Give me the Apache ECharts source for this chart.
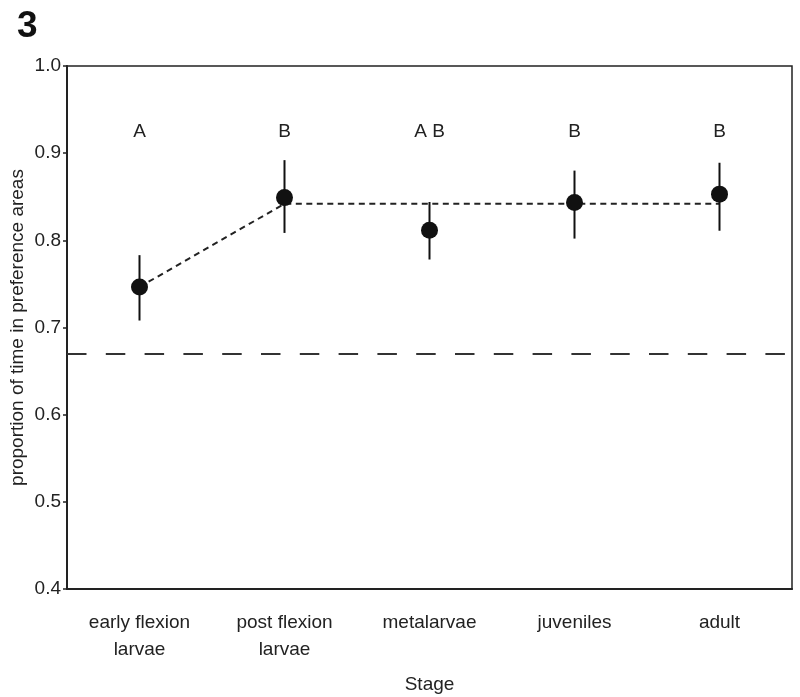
<!DOCTYPE html>
<html>
<head>
<meta charset="utf-8">
<script src="https://cdn.jsdelivr.net/npm/echarts@6/dist/echarts.min.js"></script>
<style>html,body{margin:0;padding:0;background:#fff}#c{width:800px;height:697px}</style>
</head>
<body>
<div id="c"></div>
<script>
const categories = ['early flexion\nlarvae', 'post flexion\nlarvae', 'metalarvae', 'juveniles', 'adult'];
const means = [0.7465, 0.849, 0.8115, 0.8435, 0.853];
const errLow = [0.708, 0.8085, 0.778, 0.802, 0.811];
const errHigh = [0.783, 0.892, 0.844, 0.880, 0.889];
const fitLine = [0.7465, 0.842, 0.842, 0.842, 0.842];
const letters = ['A', 'B', 'A B', 'B', 'B'];
const letterY = 0.924;
const chanceLevel = 0.666;
const yTicks = [0.4, 0.5, 0.6, 0.7, 0.8, 0.9, 1.0];

const font = 'Liberation Sans, Arial, Helvetica, sans-serif';
const chart = echarts.init(document.getElementById('c'), null, {renderer: 'canvas'});
chart.setOption({
  animation: false,
  backgroundColor: '#fff',
  title: {text: '3', left: 12, top: 3, textStyle: {fontFamily: font, fontWeight: 'bold', fontSize: 37, color: '#111'}},
  grid: {left: 67, right: 8, top: 66, bottom: 108, containLabel: false, outerBoundsMode: 'none',
    show: true, borderColor: '#222', borderWidth: 1.5, backgroundColor: 'transparent'},
  xAxis: {
    type: 'category', data: categories, boundaryGap: true,
    name: 'Stage', nameLocation: 'middle', nameGap: 86, nameMoveOverlap: false,
    nameTextStyle: {fontFamily: font, fontSize: 19, color: '#222'},
    axisLine: {lineStyle: {color: '#222', width: 2}},
    axisTick: {alignWithLabel: true, length: 4, lineStyle: {color: '#222', width: 1.5}},
    axisLabel: {fontFamily: font, fontSize: 19, color: '#222', margin: 20, lineHeight: 27},
    splitLine: {show: false}
  },
  yAxis: {
    type: 'value', min: 0.4, max: 1.0, interval: 0.1,
    name: 'proportion of time in preference areas', nameLocation: 'middle', nameGap: 40, nameMoveOverlap: false,
    nameTextStyle: {fontFamily: font, fontSize: 19, color: '#222'},
    axisLine: {show: true, lineStyle: {color: '#222', width: 2}},
    axisTick: {show: true, length: 4, lineStyle: {color: '#222', width: 1.5}},
    axisLabel: {fontFamily: font, fontSize: 19, color: '#222', margin: 6,
      formatter: v => { const t = yTicks.find(x => Math.abs(x - v) < 1e-6); return t !== undefined ? t.toFixed(1) : ''; }},
    splitLine: {show: false}
  },
  series: [
    {
      type: 'line', data: fitLine, symbol: 'none', z: 2,
      lineStyle: {color: '#222', width: 2, type: [6, 4.5]},
      markLine: {
        silent: true, symbol: 'none', label: {show: false},
        lineStyle: {color: '#333', width: 2, type: [19.5, 19.3]},
        data: [{yAxis: chanceLevel}]
      }
    },
    {
      type: 'custom', z: 3,
      data: categories.map((c, i) => [i, errLow[i], errHigh[i]]),
      renderItem: (params, api) => {
        const p1 = api.coord([api.value(0), api.value(1)]);
        const p2 = api.coord([api.value(0), api.value(2)]);
        return {type: 'line', shape: {x1: p1[0], y1: p1[1], x2: p2[0], y2: p2[1]},
          style: {stroke: '#111', lineWidth: 2}};
      }
    },
    {
      type: 'scatter', data: means, symbol: 'circle', symbolSize: 17, z: 4,
      itemStyle: {color: '#111', opacity: 1}
    },
    {
      type: 'scatter', data: letters.map(() => letterY), symbolSize: 0, z: 5,
      itemStyle: {opacity: 1},
      label: {show: true, position: 'inside', formatter: p => letters[p.dataIndex],
        fontFamily: font, fontSize: 19, color: '#222', opacity: 1}
    }
  ]
});
</script>
</body>
</html>
